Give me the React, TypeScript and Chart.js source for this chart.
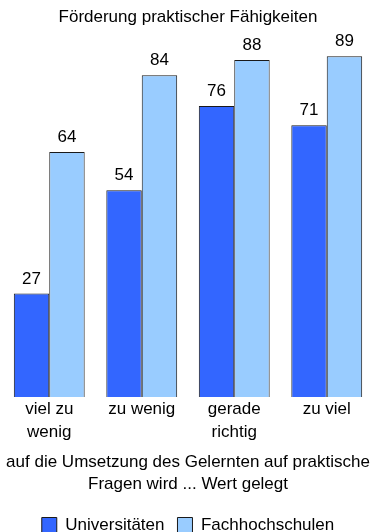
import React, { useEffect, useRef } from "react";
import { Chart, registerables } from "chart.js";
Chart.register(...registerables);

const chartTitle = "Förderung praktischer Fähigkeiten";
const categories: string[][] = [["viel zu", "wenig"], ["zu wenig"], ["gerade", "richtig"], ["zu viel"]];
const universitaeten = [27, 54, 76, 71];
const fachhochschulen = [64, 84, 88, 89];
const xTitle = ["auf die Umsetzung des Gelernten auf praktische", "Fragen wird ... Wert gelegt"];
const seriesNames = ["Universitäten", "Fachhochschulen"];

const FONT = "Arial, 'Liberation Sans', sans-serif";

const valueLabels = {
  id: "valueLabels",
  afterDatasetsDraw(chart: any) {
    const ctx = chart.ctx;
    ctx.save();
    ctx.font = `17px ${FONT}`;
    ctx.fillStyle = "#000";
    ctx.textAlign = "center";
    ctx.textBaseline = "alphabetic";
    chart.data.datasets.forEach((ds: any, i: number) => {
      const meta = chart.getDatasetMeta(i);
      meta.data.forEach((el: any, j: number) => {
        ctx.fillText(String(ds.data[j]), el.x, el.y - 10);
      });
    });
    ctx.restore();
  },
};

export default function App() {
  const ref = useRef<HTMLCanvasElement>(null);
  useEffect(() => {
    if (!ref.current) return;
    const chart = new Chart(ref.current, {
      type: "bar",
      data: {
        labels: categories,
        datasets: [
          {
            label: seriesNames[0],
            data: universitaeten,
            backgroundColor: "#3366FF",
            borderColor: "#1a1a1a",
            borderWidth: 1,
          },
          {
            label: seriesNames[1],
            data: fachhochschulen,
            backgroundColor: "#99CCFF",
            borderColor: "#1a1a1a",
            borderWidth: 1,
          },
        ],
      },
      options: {
        animation: false,
        responsive: true,
        maintainAspectRatio: false,
        layout: { padding: { left: 3, right: 2, top: 0, bottom: -11.5 } },
        datasets: { bar: { categoryPercentage: 0.766, barPercentage: 1 } },
        scales: {
          x: {
            grid: { display: false, drawTicks: false },
            border: { display: false },
            ticks: {
              color: "#000",
              padding: 1,
              maxRotation: 0,
              autoSkip: false,
              font: { family: FONT, size: 17, lineHeight: 23 / 17 },
            },
            title: {
              display: true,
              text: xTitle,
              color: "#000",
              padding: { top: 6, bottom: 8.5 },
              font: { family: FONT, size: 17, lineHeight: 22 / 17 },
            },
          },
          y: {
            display: false,
            min: 0,
            max: 96,
          },
        },
        plugins: {
          title: {
            display: true,
            text: chartTitle,
            color: "#000",
            padding: { top: 7, bottom: 2 },
            font: { family: FONT, size: 17, weight: "normal", lineHeight: 1.2 },
          },
          legend: {
            position: "bottom",
            labels: {
              color: "#000",
              boxWidth: 15,
              boxHeight: 15,
              padding: 13,
              font: { family: FONT, size: 17 },
            },
          },
          tooltip: { enabled: false },
        },
      },
      plugins: [valueLabels],
    });
    return () => chart.destroy();
  }, []);
  return (
    <div style={{ position: "absolute", left: 0, top: 0, width: 375, height: 532 }}>
      <canvas ref={ref} />
    </div>
  );
}
